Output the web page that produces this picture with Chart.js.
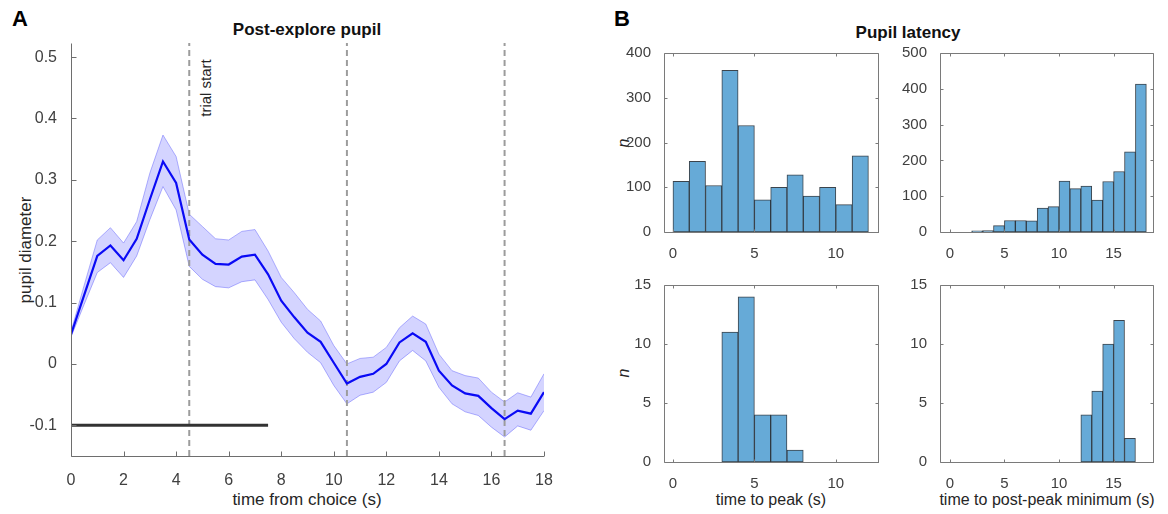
<!DOCTYPE html>
<html>
<head>
<meta charset="utf-8">
<script src="https://cdn.jsdelivr.net/npm/chart.js@4.4.1/dist/chart.umd.min.js"></script>
<style>
  body { margin: 0; background: #fff; width: 1168px; height: 514px; position: relative; overflow: hidden;
         font-family: "Liberation Sans", Arial, sans-serif; color: #262626; }
  canvas { position: absolute; }
  .t { position: absolute; white-space: nowrap; transform: translate(-50%, -50%); }
  .r { transform: translate(-50%, -50%) rotate(-90deg); }
</style>
</head>
<body>
<div class="t" style="left:20px;top:19px;font:bold 22px 'Liberation Sans';color:#000">A</div>
<div class="t" style="left:622px;top:19px;font:bold 22px 'Liberation Sans';color:#000">B</div>
<div class="t" style="left:307px;top:30px;font:bold 17px 'Liberation Sans';color:#111">Post-explore pupil</div>
<div class="t" style="left:908px;top:33px;font:bold 17px 'Liberation Sans';color:#111">Pupil latency</div>
<div class="t r" style="left:205px;top:88px;font-size:15px">trial start</div>
<div class="t r" style="left:26px;top:250px;font-size:17px">pupil diameter</div>
<div class="t" style="left:307px;top:500px;font-size:17px">time from choice (s)</div>
<div class="t r" style="left:624px;top:143px;font:italic 16px 'Liberation Sans'">n</div>
<div class="t r" style="left:624px;top:373px;font:italic 16px 'Liberation Sans'">n</div>
<div class="t" style="left:771px;top:500px;font-size:16px">time to peak (s)</div>
<div class="t" style="left:1047px;top:500px;font-size:16px">time to post-peak minimum (s)</div>

<script>
// ---- panel A data: pupil trace after explore choices ----
const timeS = [0, 0.5, 1, 1.5, 2, 2.5, 3, 3.5, 4, 4.5, 5, 5.5, 6, 6.5, 7, 7.5, 8, 8.5, 9, 9.5,
  10, 10.5, 11, 11.5, 12, 12.5, 13, 13.5, 14, 14.5, 15, 15.5, 16, 16.5, 17, 17.5, 18];
const pupilMean = [0.048, 0.112, 0.176, 0.193, 0.169, 0.204, 0.268, 0.330, 0.295, 0.203, 0.178, 0.163,
  0.162, 0.175, 0.178, 0.146, 0.103, 0.076, 0.051, 0.036, 0.002, -0.032, -0.021, -0.016, 0.000, 0.035,
  0.050, 0.036, -0.011, -0.035, -0.048, -0.052, -0.072, -0.090, -0.076, -0.081, -0.046];
const pupilUpper = [0.053, 0.128, 0.202, 0.222, 0.197, 0.232, 0.311, 0.373, 0.338, 0.244, 0.224, 0.204,
  0.202, 0.216, 0.219, 0.184, 0.141, 0.116, 0.089, 0.070, 0.030, 0.000, 0.009, 0.011, 0.027, 0.059,
  0.078, 0.065, 0.016, -0.011, -0.019, -0.023, -0.046, -0.062, -0.047, -0.054, -0.016];
const pupilLower = [0.044, 0.097, 0.149, 0.165, 0.141, 0.176, 0.235, 0.289, 0.251, 0.159, 0.138, 0.126,
  0.124, 0.134, 0.137, 0.105, 0.068, 0.041, 0.019, 0.002, -0.035, -0.065, -0.051, -0.046, -0.030, 0.005,
  0.022, 0.005, -0.038, -0.065, -0.078, -0.084, -0.103, -0.119, -0.101, -0.108, -0.076];
const eventTimes = [4.5, 10.5, 16.5];      // dashed lines
const windowX = [0, 7.5];                   // black bar
const windowY = -0.1;
const aTicksX = [0, 2, 4, 6, 8, 10, 12, 14, 16, 18];
const aTicksY = [-0.1, 0, 0.1, 0.2, 0.3, 0.4, 0.5];

// ---- panel B data: latency histograms ----
const peakBins = [0.5, 1.5, 2.5, 3.5, 4.5, 5.5, 6.5, 7.5, 8.5, 9.5, 10.5, 11.5];
const peakAll = [113, 158, 104, 361, 238, 72, 100, 128, 80, 100, 61, 170];
const peakSubj = [0, 0, 0, 11, 14, 4, 4, 1, 0, 0, 0, 0];
const minBins = [0.5, 1.5, 2.5, 3.5, 4.5, 5.5, 6.5, 7.5, 8.5, 9.5, 10.5, 11.5, 12.5, 13.5, 14.5, 15.5, 16.5, 17.5];
const minAll = [0, 0, 3, 4, 18, 32, 32, 31, 67, 71, 142, 121, 128, 89, 141, 169, 224, 413];
const minSubj = [0, 0, 0, 0, 0, 0, 0, 0, 0, 0, 0, 0, 4, 6, 10, 12, 2, 0];
const peakTicksX = [0, 5, 10];
const minTicksX = [0, 5, 10, 15];
const allTicksTL = [0, 100, 200, 300, 400];
const allTicksTR = [0, 100, 200, 300, 400, 500];
const subjTicks = [0, 5, 10, 15];

const FONT = '"Liberation Sans", Arial, sans-serif';

// matlab-ish axes: lines + inward ticks
const boxTicks = {
  id: 'boxTicks',
  afterDraw(chart, args, o) {
    const { ctx, chartArea: a } = chart;
    const x = chart.scales.x, y = chart.scales.y;
    ctx.save();
    ctx.strokeStyle = o.color;
    ctx.lineWidth = 1;
    ctx.beginPath();
    const L = Math.round(a.left) + 0.5, B = Math.round(a.bottom) + 0.5;
    const R = Math.round(a.right) - 0.5, T = Math.round(a.top) + 0.5;
    ctx.moveTo(L, T); ctx.lineTo(L, B); ctx.lineTo(R + 0.5, B);
    if (o.box) { ctx.moveTo(R, B); ctx.lineTo(R, T); ctx.lineTo(L, T); }
    x.ticks.forEach(t => {
      const p = Math.round(x.getPixelForValue(t.value)) + 0.5;
      ctx.moveTo(p, B); ctx.lineTo(p, B - o.len);
      if (o.box) { ctx.moveTo(p, T); ctx.lineTo(p, T + o.len); }
    });
    y.ticks.forEach(t => {
      const p = Math.round(y.getPixelForValue(t.value)) + 0.5;
      ctx.moveTo(L, p); ctx.lineTo(L + o.len, p);
      if (o.box) { ctx.moveTo(R, p); ctx.lineTo(R - o.len, p); }
    });
    ctx.stroke();
    ctx.restore();
  }
};

function makeChart(area, yW, xH, config) {
  const padT = 10, padR = 14;
  const cv = document.createElement('canvas');
  const w = yW + (area[2] - area[0]) + padR, h = padT + (area[3] - area[1]) + xH;
  cv.width = w; cv.height = h;
  cv.style.left = (area[0] - yW) + 'px';
  cv.style.top = (area[1] - padT) + 'px';
  cv.style.width = w + 'px'; cv.style.height = h + 'px';
  document.body.appendChild(cv);
  const op = config.options;
  op.responsive = false;
  op.animation = false;
  op.layout = { padding: { top: padT, right: padR, left: 0, bottom: 0 } };
  op.scales.x.afterFit = s => { s.height = xH; s.paddingLeft = 0; s.paddingRight = 0; };
  op.scales.y.afterFit = s => { s.width = yW; s.paddingTop = 0; s.paddingBottom = 0; };
  config.plugins = [boxTicks];
  return new Chart(cv, config);
}

function tickSet(arr) {
  return s => { s.ticks = arr.map(v => ({ value: v })); };
}

// ---------- panel A ----------
const pts = arr => timeS.map((t, i) => ({ x: t, y: arr[i] }));
const yMinA = -0.15, yMaxA = 0.523;
const dashed = eventTimes.map(t => ({
  data: [{ x: t, y: yMinA }, { x: t, y: yMaxA }],
  borderColor: '#9c9c9c', borderWidth: 2, borderDash: [6, 4], pointRadius: 0, fill: false
}));

makeChart([71, 43, 544, 456], 71, 45, {
  type: 'line',
  data: {
    datasets: [
      { data: pts(pupilMean), borderColor: '#0a0af5', borderWidth: 2.2, pointRadius: 0, fill: false },
      { data: windowX.map(x => ({ x: x, y: windowY })), borderColor: '#333333', borderWidth: 3, pointRadius: 0, fill: false },
      ...dashed,
      { data: pts(pupilUpper), borderColor: 'rgba(90,90,250,0.45)', borderWidth: 1, pointRadius: 0,
        fill: '+1', backgroundColor: 'rgba(40,40,255,0.2)' },
      { data: pts(pupilLower), borderColor: 'rgba(90,90,250,0.45)', borderWidth: 1, pointRadius: 0, fill: false }
    ]
  },
  options: {
    plugins: { legend: { display: false }, tooltip: { enabled: false },
      boxTicks: { box: false, len: 5, color: '#6e6e6e' } },
    scales: {
      x: { type: 'linear', min: 0, max: 18, afterBuildTicks: tickSet(aTicksX),
        grid: { display: false }, border: { display: false },
        ticks: { padding: 7, color: '#404040', font: { family: FONT, size: 16 } } },
      y: { type: 'linear', min: yMinA, max: yMaxA, afterBuildTicks: tickSet(aTicksY),
        grid: { display: false }, border: { display: false },
        ticks: { padding: 6, color: '#404040', font: { family: FONT, size: 16 },
          callback: v => (v === 0 ? '0' : v.toFixed(1)) } }
    }
  }
});

// ---------- panel B histograms ----------
function hist(area, centers, vals, xr, yr, ticksX, ticksY) {
  return makeChart(area, 50, 36, {
    type: 'bar',
    data: {
      datasets: [{
        data: centers.map((c, i) => ({ x: c, y: vals[i] })),
        backgroundColor: 'rgb(102,170,215)',
        borderColor: 'rgba(25,35,45,0.85)',
        borderWidth: 1, borderSkipped: false,
        barPercentage: 1, categoryPercentage: 1
      }]
    },
    options: {
      plugins: { legend: { display: false }, tooltip: { enabled: false },
        boxTicks: { box: true, len: 3, color: '#7a7a7a' } },
      scales: {
        x: { type: 'linear', offset: false, min: xr[0], max: xr[1], afterBuildTicks: tickSet(ticksX),
          grid: { display: false }, border: { display: false },
          ticks: { padding: 5, color: '#404040', font: { family: FONT, size: 15 } } },
        y: { type: 'linear', min: yr[0], max: yr[1], afterBuildTicks: tickSet(ticksY),
          grid: { display: false }, border: { display: false },
          ticks: { padding: 5, color: '#404040', font: { family: FONT, size: 15 } } }
      }
    }
  });
}

hist([664, 53, 879, 232], peakBins, peakAll, [-0.55, 12.65], [0, 400], peakTicksX, allTicksTL);
hist([940, 53, 1154, 232], minBins, minAll, [-0.9, 18.7], [0, 500], minTicksX, allTicksTR);
hist([664, 285, 879, 462], peakBins, peakSubj, [-0.55, 12.65], [0, 15], peakTicksX, subjTicks);
hist([940, 285, 1154, 462], minBins, minSubj, [-0.9, 18.7], [0, 15], minTicksX, subjTicks);
</script>
</body>
</html>
